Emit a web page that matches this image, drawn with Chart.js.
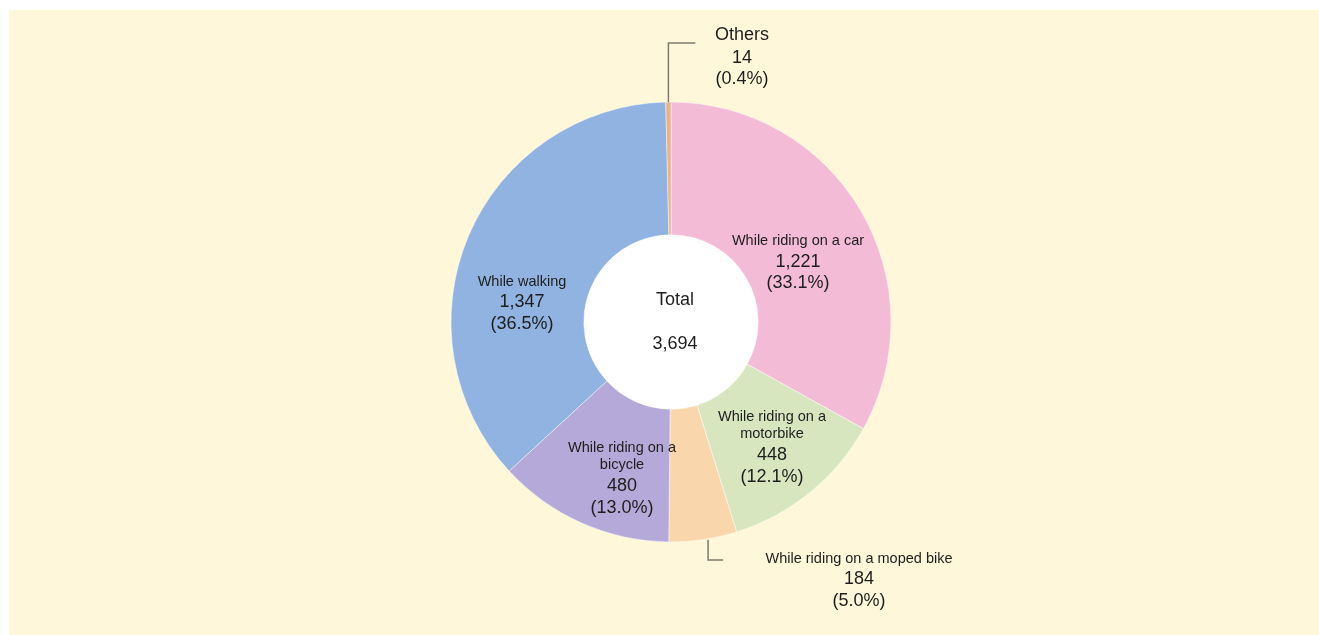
<!DOCTYPE html>
<html>
<head>
<meta charset="utf-8">
<script src="https://cdn.jsdelivr.net/npm/chart.js@4.4.1/dist/chart.umd.min.js"></script>
<style>
  html, body { margin: 0; padding: 0; background: #ffffff; }
  #panel { position: absolute; left: 9px; top: 10px; width: 1310px; height: 625px; background: #FFF7D9; }
  canvas { display: block; }
</style>
</head>
<body>
<div id="panel"><canvas id="chart" width="1310" height="625"></canvas></div>
<script>
// Traffic fatalities by situation
const categories = ["While riding on a car", "While riding on a motorbike", "While riding on a moped bike",
                    "While riding on a bicycle", "While walking", "Others"];
const labelLines = [["While riding on a car"], ["While riding on a", "motorbike"], ["While riding on a moped bike"],
                    ["While riding on a", "bicycle"], ["While walking"], ["Others"]];
const deaths = [1221, 448, 184, 480, 1347, 14];
const totalLabel = "Total";

const colors = ["#F3BBD6", "#D8E6C0", "#FAD6AC", "#B4A9D8", "#90B3E1", "#E6B489"];

// label anchor offsets from the ring centre (x, and y of each text line)
const labelPos = [
  { dx: 127,  ys: [-81, -60, -39] },
  { dx: 101,  ys: [95, 112, 133, 155] },
  { dx: 188,  ys: [237, 257, 279] },
  { dx: -49,  ys: [126, 143, 164, 186] },
  { dx: -149, ys: [-40, -20, 2] },
  { dx: 71,   ys: [-287, -264, -243] }
];

const total = deaths.reduce((a, b) => a + b, 0);
const fmt = n => n.toLocaleString("en-US");
const FONT = "'Liberation Sans', Arial, sans-serif";

const ringDecor = {
  id: "ringDecor",
  beforeDatasetsDraw(chart) {
    const arc = chart.getDatasetMeta(0).data[0];
    const ctx = chart.ctx;
    ctx.save();
    ctx.beginPath();
    ctx.arc(arc.x, arc.y, arc.innerRadius, 0, Math.PI * 2);
    ctx.fillStyle = "#ffffff";
    ctx.fill();
    ctx.restore();
  },
  afterDatasetsDraw(chart) {
    const meta = chart.getDatasetMeta(0);
    const ctx = chart.ctx;
    const cx = meta.data[0].x, cy = meta.data[0].y;
    ctx.save();
    ctx.textAlign = "center";
    ctx.textBaseline = "middle";
    ctx.fillStyle = "#1e1e1e";

    // centre total
    ctx.font = "18px " + FONT;
    ctx.fillText(totalLabel, cx + 4, cy - 22);
    ctx.fillText(fmt(total), cx + 4, cy + 22);

    // leader lines for the two narrow slices
    ctx.strokeStyle = "#7d7b70";
    ctx.lineWidth = 1.5;
    const outerPt = (el) => {
      const mid = (el.startAngle + el.endAngle) / 2;
      return { x: el.x + Math.cos(mid) * el.outerRadius, y: el.y + Math.sin(mid) * el.outerRadius };
    };
    const others = outerPt(meta.data[5]);
    ctx.beginPath();
    ctx.moveTo(others.x, others.y);
    ctx.lineTo(others.x, cy - 279);
    ctx.lineTo(others.x + 27, cy - 279);
    ctx.stroke();
    const moped = outerPt(meta.data[2]);
    ctx.beginPath();
    ctx.moveTo(moped.x + 5, moped.y);
    ctx.lineTo(moped.x + 5, cy + 238);
    ctx.lineTo(moped.x + 20, cy + 238);
    ctx.stroke();

    // slice labels: name lines, count, share
    deaths.forEach((v, i) => {
      const p = labelPos[i];
      const names = labelLines[i];
      const nameFont = i === 5 ? "18px " : "14.5px ";
      names.forEach((t, k) => {
        ctx.font = nameFont + FONT;
        ctx.fillText(t, cx + p.dx, cy + p.ys[k]);
      });
      ctx.font = "18px " + FONT;
      ctx.fillText(fmt(v), cx + p.dx, cy + p.ys[names.length]);
      ctx.fillText("(" + (v / total * 100).toFixed(1) + "%)", cx + p.dx, cy + p.ys[names.length + 1]);
    });
    ctx.restore();
  }
};

new Chart(document.getElementById("chart"), {
  type: "doughnut",
  data: {
    labels: categories,
    datasets: [{
      data: deaths,
      backgroundColor: colors,
      borderColor: "rgba(255,255,255,0.45)",
      borderWidth: 1
    }]
  },
  options: {
    responsive: false,
    animation: false,
    radius: 220,
    cutout: 87,
    layout: { padding: { top: 92, bottom: 93, left: 200, right: 186 } },
    plugins: { legend: { display: false }, tooltip: { enabled: false } }
  },
  plugins: [ringDecor]
});
</script>
</body>
</html>
